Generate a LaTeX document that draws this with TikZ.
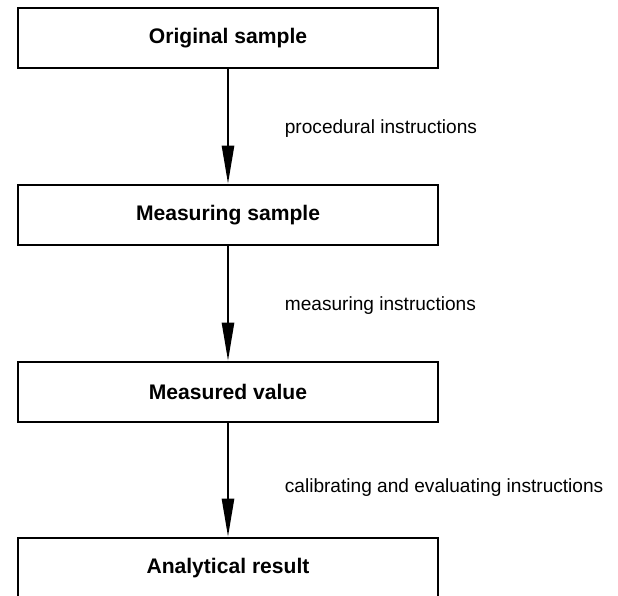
\documentclass[tikz,border=0pt]{standalone}
\usepackage{fontspec}
\setmainfont{Liberation Sans}
\usetikzlibrary{arrows.meta,positioning}

\begin{document}
\begin{tikzpicture}[x=0.03cm,y=-0.03cm,
  stage/.style={draw, line width=1.7pt, minimum width=12.6cm, minimum height=1.8cm,
    font=\bfseries\fontsize{18}{21}\selectfont},
  flow/.style={line width=2.2pt, -{Triangle[length=1.15cm,width=0.36cm]}},
  note/.style={font=\fontsize{16.3}{19}\selectfont, anchor=west, xshift=1.55cm}]
\useasboundingbox (0,0) rectangle (618,596);
\clip (0,0) rectangle (618,596);

\node[stage] (orig)   at (228,38)  {Original sample};
\node[stage] (meas)   at (228,215) {Measuring sample};
\node[stage] (value)  at (228,392) {Measured value};
\node[stage] (result) at (228,568) {Analytical result};

\draw[flow] (orig)  -- node[note, pos=.52] {procedural instructions} (meas);
\draw[flow] (meas)  -- node[note, pos=.52] {measuring instructions} (value);
\draw[flow] (value) -- node[note, pos=.57] {calibrating and evaluating instructions} (result);
\end{tikzpicture}
\end{document}
